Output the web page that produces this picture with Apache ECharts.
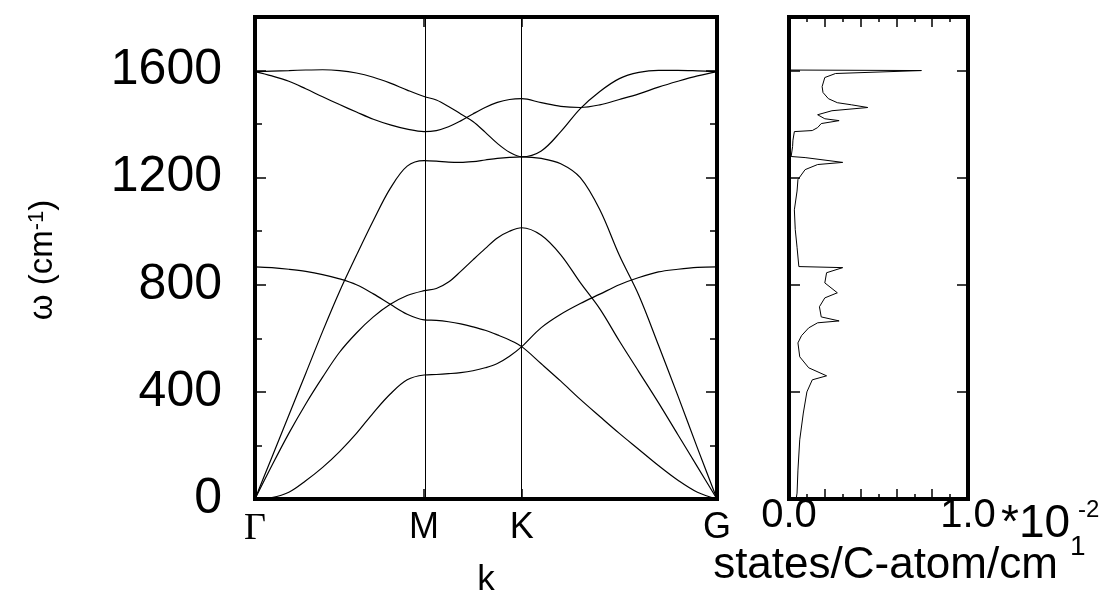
<!DOCTYPE html>
<html>
<head>
<meta charset="utf-8">
<script src="https://cdn.jsdelivr.net/npm/echarts@6/dist/echarts.min.js"></script>
<style>
html,body{margin:0;padding:0;background:#fff;}
#chart{width:1104px;height:592px;}
</style>
</head>
<body>
<div id="chart"></div>
<script>
// ---- high-symmetry points (k path) ----
const kPoints = [0, 0.5774, 0.9107, 1.5774];
const kLabels = ['Γ', 'M', 'K', 'G'];

// ---- frequency axis ----
const omegaMin = 0, omegaMax = 1800, omegaStep = 400, omegaMinorStep = 200;

// ---- k sample positions along each segment ----
const kGM = [0, 0.0577, 0.1155, 0.1732, 0.2309, 0.2887, 0.3464, 0.4041, 0.4619, 0.5196, 0.5774];
const kMK = [0.6191, 0.6607, 0.7024, 0.7441, 0.7857, 0.8274, 0.8690, 0.9107];
const kKG = [0.9774, 1.0440, 1.1107, 1.1774, 1.2440, 1.3107, 1.3774, 1.4440, 1.5107, 1.5774];

// ---- phonon branches, omega (cm^-1) at the k samples above (Γ-M | M-K | K-G) ----
// ZA/ZO cross linearly at K
const wZA = [0, 5, 25, 68, 118, 177, 245, 322, 392, 445, 463,
             465, 468, 472, 479, 490, 506, 533, 569,
             640, 690, 730, 765, 800, 827, 848, 858, 865, 867];
const wTA = [0, 125, 245, 355, 455, 548, 620, 680, 727, 760, 778,
             786, 810, 850, 893, 935, 975, 1000, 1013,
             985, 912, 808, 710, 590, 475, 360, 240, 120, 0];
const wLA = [0, 156, 313, 469, 626, 775, 910, 1040, 1160, 1243, 1264,
             1262, 1258, 1257, 1260, 1266, 1272, 1276, 1278,
             1272, 1252, 1200, 1080, 910, 760, 575, 385, 190, 0];
const wZO = [867, 864, 858, 850, 838, 822, 800, 766, 727, 690, 669,
             667, 662, 654, 643, 630, 613, 594, 569,
             505, 440, 372, 308, 245, 185, 125, 70, 25, 0];
const wLO = [1596, 1580, 1560, 1532, 1502, 1473, 1445, 1418, 1397, 1381, 1372,
             1376, 1390, 1412, 1438, 1462, 1481, 1492, 1495,
             1480, 1466, 1462, 1472, 1492, 1513, 1538, 1560, 1580, 1596];
const wTO = [1596, 1598, 1600, 1602, 1603, 1600, 1591, 1575, 1553, 1527, 1503,
             1490, 1466, 1438, 1410, 1370, 1328, 1295, 1278,
             1300, 1372, 1458, 1522, 1570, 1593, 1601, 1601, 1599, 1596];

// ---- phonon density of states (x 10^-2 states/C-atom/cm^-1) ----
const dosOmega = [1602,1600,1589,1574,1540,1518,1495,1480,1472,1462,1450,1435,1420,1413,1402,1387,1376,1372,
  1340,1316,1279,1275,1257,1249,1230,1193,1150,1080,1006,940,868,864,845,807,770,751,718,680,665,658,639,
  610,583,531,490,460,445,400,321,221,108,22,0];
const dosValue = [0.0,0.74,0.26,0.20,0.185,0.19,0.22,0.27,0.35,0.44,0.24,0.16,0.20,0.28,0.18,0.16,0.13,0.03,
  0.022,0.02,0.012,0.09,0.30,0.16,0.09,0.05,0.045,0.03,0.035,0.045,0.055,0.30,0.21,0.20,0.27,0.20,0.17,0.18,0.28,0.16,0.11,
  0.07,0.05,0.06,0.11,0.21,0.13,0.10,0.08,0.06,0.05,0.045,0.04];
const dosTicks = {min: 0, max: 1.0, step: 0.2};
const dosTickLabels = {0: '0.0', 1: '1.0'};

const FONT = 'Liberation Sans, Arial, sans-serif';
const chart = echarts.init(document.getElementById('chart'), null, {renderer: 'canvas'});

const kAll = kGM.concat(kMK, kKG);
const bands = [wZA, wTA, wLA, wZO, wLO, wTO];
const series = bands.map((w, i) => ({
  type: 'line', xAxisIndex: 0, yAxisIndex: 0, data: kAll.map((k, j) => [k, w[j]]),
  symbol: 'none', smooth: 0.35,
  lineStyle: {color: '#000', width: 1.2}, silent: true, animation: false,
  markLine: i === 0 ? {
    silent: true, symbol: 'none', label: {show: false}, animation: false,
    lineStyle: {color: '#000', width: 1, type: 'solid'},
    data: [{xAxis: kPoints[1]}, {xAxis: kPoints[2]}]
  } : undefined
}));
series.push({
  type: 'line', xAxisIndex: 2, yAxisIndex: 2, symbol: 'none', smooth: false,
  data: dosOmega.map((w, i) => [dosValue[i], w]),
  lineStyle: {color: '#000', width: 1}, silent: true, animation: false
});

const tickStyle = {color: '#000', width: 1.5};
const noLine = {show: false, onZero: false};
function yAx(grid, pos, interval, len, labels) {
  return {
    type: 'value', gridIndex: grid, position: pos, min: omegaMin, max: omegaMax, interval: interval,
    axisLine: noLine, splitLine: {show: false},
    axisTick: {show: true, inside: true, length: len, lineStyle: tickStyle},
    axisLabel: labels ? {
      show: true, fontSize: 50, fontFamily: FONT, color: '#000', margin: 33,
      formatter: v => (v % omegaStep === 0 && v <= 1600) ? String(v) : ''
    } : {show: false}
  };
}

const gridRectBands = {left: 255, top: 17, width: 462, height: 482, containLabel: false, outerBoundsMode: 'none'};
const option = {
  backgroundColor: '#fff',
  animation: false,
  grid: [
    Object.assign({show: true, borderColor: '#000', borderWidth: 4, backgroundColor: 'transparent'}, gridRectBands),
    {left: 789, top: 17, width: 179, height: 482, containLabel: false, outerBoundsMode: 'none',
      show: true, borderColor: '#000', borderWidth: 4, backgroundColor: 'transparent'},
    Object.assign({show: false}, gridRectBands)
  ],
  xAxis: [
    {
      type: 'value', gridIndex: 0, position: 'bottom', min: kPoints[0], max: kPoints[3],
      axisLine: noLine, splitLine: {show: false},
      axisTick: {show: true, inside: true, length: 10, customValues: [kPoints[1], kPoints[2]], lineStyle: tickStyle},
      axisLabel: {
        show: true, customValues: kPoints, fontSize: 36, fontFamily: FONT, color: '#000', margin: 11,
        formatter: v => {
          const i = kPoints.findIndex(p => Math.abs(p - v) < 1e-6);
          if (i < 0) return '';
          return i === 0 ? '{g|' + kLabels[0] + '}' : kLabels[i];
        },
        rich: {g: {fontFamily: 'Liberation Serif, Times New Roman, serif', fontSize: 38, color: '#000'}}
      },
      name: 'k', nameLocation: 'middle', nameGap: 64,
      nameTextStyle: {fontSize: 35, fontFamily: FONT, color: '#000'}
    },
    {
      type: 'value', gridIndex: 0, position: 'top', min: kPoints[0], max: kPoints[3],
      axisLine: noLine, splitLine: {show: false},
      axisTick: {show: true, inside: true, length: 10, customValues: [kPoints[1], kPoints[2]], lineStyle: tickStyle},
      axisLabel: {show: false}
    },
    {
      type: 'value', gridIndex: 1, position: 'bottom', min: dosTicks.min, max: dosTicks.max, interval: dosTicks.step,
      axisLine: noLine, splitLine: {show: false},
      axisTick: {show: true, inside: true, length: 10, lineStyle: tickStyle},
      minorTick: {show: true, splitNumber: 2, length: 5, lineStyle: tickStyle},
      axisLabel: {
        show: true, fontSize: 40, lineHeight: 30, fontFamily: FONT, color: '#000', margin: 2,
        showMinLabel: true, showMaxLabel: true,
        formatter: v => dosTickLabels[v] !== undefined ? dosTickLabels[v] : ''
      },
      name: 'states/C-atom/cm', nameLocation: 'middle', nameGap: 45,
      nameTextStyle: {fontSize: 44, fontFamily: FONT, color: '#000', padding: [0, 0, 0, 14]}
    },
    {
      type: 'value', gridIndex: 1, position: 'top', min: dosTicks.min, max: dosTicks.max, interval: dosTicks.step,
      axisLine: noLine, splitLine: {show: false},
      axisTick: {show: true, inside: true, length: 10, lineStyle: tickStyle},
      minorTick: {show: true, splitNumber: 2, length: 5, lineStyle: tickStyle},
      axisLabel: {show: false}
    },
    {
      type: 'value', gridIndex: 2, position: 'bottom', min: kPoints[0], max: kPoints[3], show: false,
      axisLine: noLine
    }
  ],
  yAxis: [
    Object.assign(yAx(0, 'left', omegaStep, 11, true), {
      name: 'ω (cm{sup|-1})', nameLocation: 'middle', nameGap: 196, nameRotate: 90,
      nameTextStyle: {fontSize: 33, fontFamily: FONT, color: '#000', padding: [0, 4, 0, 0],
        rich: {sup: {fontSize: 22, fontFamily: FONT, color: '#000', verticalAlign: 'top', lineHeight: 22, padding: [0, 0, 14, 0]}}}
    }),
    yAx(0, 'right', omegaStep, 11, false),
    yAx(1, 'left', omegaStep, 11, false),
    yAx(1, 'right', omegaStep, 11, false),
    yAx(2, 'left', omegaMinorStep, 7, false),
    yAx(2, 'right', omegaMinorStep, 7, false)
  ],
  graphic: [
    {type: 'text', left: 1001, top: 501, silent: true,
      style: {text: '*10', fontSize: 46, fontFamily: FONT, fill: '#000'}},
    {type: 'text', left: 1078, top: 498, silent: true,
      style: {text: '-2', fontSize: 24, fontFamily: FONT, fill: '#000'}},
    {type: 'text', left: 1070, top: 533, silent: true,
      style: {text: '1', fontSize: 28, fontFamily: FONT, fill: '#000'}}
  ],
  series: series
};
chart.setOption(option);
</script>
</body>
</html>
